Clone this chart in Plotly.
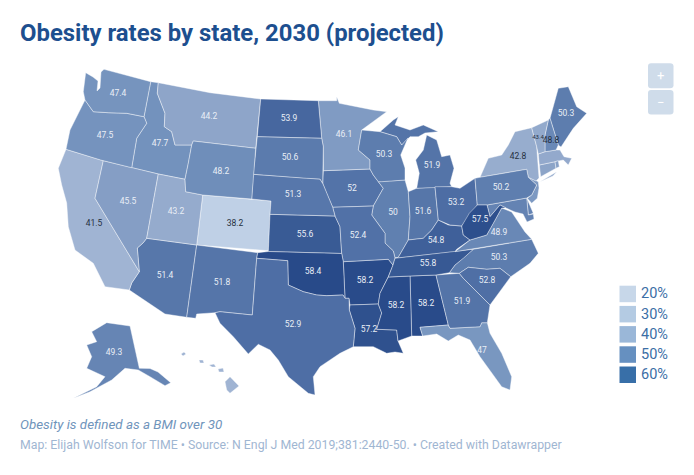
import plotly.graph_objects as go
from plotly.colors import sample_colorscale

# Valeurs du graphique
state_codes = ["AK","AL","AR","AZ","CA","CO","CT","DE","FL","GA","HI","IA","ID","IL","IN","KS","KY","LA","MA","MD",
               "ME","MI","MN","MO","MS","MT","NC","ND","NE","NH","NJ","NM","NV","NY","OH","OK","OR","PA","RI","SC",
               "SD","TN","TX","UT","VA","VT","WA","WI","WV","WY"]
state_rates = [49.3,58.2,58.2,51.4,41.5,38.2,44.5,49.5,47,51.9,41.5,52,47.7,50,51.6,55.6,54.8,57.2,43.5,49.5,
               50.3,51.9,46.1,52.4,58.2,44.2,50.3,53.9,51.3,48.8,46.5,51.8,45.5,42.8,53.2,58.4,47.5,50.2,45,52.8,
               50.6,55.8,52.9,43.2,48.9,43.4,47.4,50.3,57.5,48.2]
# Etats sans etiquette sur la carte
unlabeled = ["CT","DE","HI","MA","MD","NJ","RI"]
dark_labels = ["CA","CO","NY","NH","VT"]

legend_labels = ["20%","30%","40%","50%","60%"]
legend_colors = ["#c7d7e9","#b4cbe3","#9ab7d8","#6690c0","#386fa8"]

title_text = "Obesity rates by state, 2030 (projected)"
note_text = "Obesity is defined as a BMI over 30"
source_text = "Map: Elijah Wolfson for TIME • Source: N Engl J Med 2019;381:2440-50. • Created with Datawrapper"

# Position des etiquettes
label_pos = {
    "AK":(114,353),"AL":(426,304),"AR":(365,281),"AZ":(165,276),"CA":(94,224),"CO":(235,224),"FL":(482,351),
    "GA":(462,302),"IA":(352,189),"ID":(160,144),"IL":(393,213),"IN":(423,212),"KS":(305,235),"KY":(436,241),
    "LA":(369,330),"ME":(566,114),"MI":(432,166),"MN":(344,135),"MO":(358,236),"MS":(396,306),"MT":(209,117),
    "NC":(499,258),"ND":(289,119),"NE":(293,195),"NH":(551,141),"NM":(222,283),"NV":(128,202),"NY":(518,157),
    "OH":(456,203),"OK":(313,272),"OR":(105,136),"PA":(501,188),"SC":(487,281),"SD":(290,158),"TN":(428,264),
    "TX":(293,325),"UT":(176,212),"VA":(499,233),"VT":(538,137),"WA":(118,94),"WI":(384,155),"WV":(480,220),
    "WY":(221,172),
}

# Contours des etats, relus sur l'image (pas de topojson sans reseau)
outlines = {
    "WA":[[(85.7,72.7),(93,77),(98,81),(97,91),(100,88),(101,78),(101,72),(104,69.3),(150.7,81.7),(144,116.7),
           (126.7,113.3),(108.3,112.7),(93.3,111.7),(85,100),(83.3,91.7)]],
    "OR":[[(85,100),(93.3,111.7),(108.3,112.7),(126.7,113.3),(144,116.7),(146.7,123.3),(136.7,138.3),(131.7,167.7),
           (100.7,160),(66,149.3),(70,130)]],
    "CA":[[(66,149.3),(103.3,160.7),(95,198.3),(139.3,271.7),(131.7,283),(129.3,290),(105,286.7),(93.3,263.3),
           (75,250),(68.3,226.7),(66.7,203),(61.7,185),(58.3,168.3)]],
    "NV":[[(103.3,160.7),(131.7,167.7),(158.3,174),(146.7,238.3),(143,243),(137.3,248),(139.3,271.7),(95,198.3)]],
    "ID":[[(150.7,81.7),(158.3,82.7),(157.3,93.3),(165,113.3),(164.3,126.7),(171.7,131.7),(175,145),(191.7,145),
           (188.3,163.3),(185,179.3),(158.3,174),(131.7,167.7),(136.7,138.3),(146.7,123.3),(144,116.7)]],
    "MT":[[(158.3,82.7),(210,92.7),(260.7,99),(257.3,136.7),(255.7,148.3),(193.3,141),(191.7,145),(175,145),
           (171.7,131.7),(164.3,126.7),(165,113.3),(157.3,93.3)]],
    "WY":[[(193.3,141),(255.7,148.3),(251.7,199),(202.7,195),(185.7,191.7),(185,179.3),(188.3,163.3),(191.7,145)]],
    "UT":[[(158.3,174),(185,179.3),(185.7,191.7),(202.7,195),(196.7,245),(146.7,238.3)]],
    "CO":[[(202.7,195),(251.7,199),(271,201),(268.3,250.7),(196.7,245)]],
    "AZ":[[(146.7,238.3),(196.7,245),(186.7,317.3),(165,314),(129.3,290),(131.7,283),(139.3,271.7),(137.3,248),(143,243)]],
    "NM":[[(196.7,245),(257.7,252.7),(256.7,258.3),(252.3,315),(220,311.7),(215,312.7),(196.7,314),(195.7,318.3),(186.7,317.3)]],
    "ND":[[(260.7,99),(318.3,100.7),(321.7,138.3),(257.3,136.7)]],
    "SD":[[(257.3,136.7),(321.7,138.3),(323.3,146.7),(323.3,170.7),(322.7,183.3),(320,179),(306.7,178.3),(253.3,174.3),(255.7,148.3)]],
    "NE":[[(253.3,174.3),(306.7,178.3),(320,179),(322.7,183.3),(326.7,193.3),(332.7,207.3),(335,216),(270,214.3),(271,201),(251.7,199)]],
    "KS":[[(270,214.3),(335,216),(340,226.7),(341.7,253.5),(268.3,251.5)]],
    "OK":[[(257.7,252.7),(268.3,251.5),(341.7,253.5),(343.3,261.7),(345,298.3),(343,295),(326.7,295.7),(316.7,295),
           (303.3,291.7),(288.3,285),(287.7,260.7),(256.7,258.3)]],
    "TX":[[(256.7,258.3),(287.7,260.7),(288.3,285),(303.3,291.7),(316.7,295),(326.7,295.7),(343,295),(345,298.3),(349,298.3),
           (349.3,310),(355,328.3),(353.3,346.7),(340,353.3),(320,366.7),(313.3,376.7),(315,395),(308.3,393.3),(288.3,376.7),
           (278.3,360),(270,350),(258.3,344.3),(248.3,354),(233.3,336.7),(220,323.3),(215,312.7),(220,311.7),(252.3,315)]],
    "MN":[[(318.3,100.7),(336.7,100.7),(336.7,96.7),(339.3,103.3),(356.7,106.7),(373.3,110),(386.7,111.7),(373.3,121.7),
           (361.7,130),(358.3,150),(370,160),(370,169),(323.3,170.7),(323.3,146.7),(321.7,138.3)]],
    "IA":[[(323.3,170.7),(370,169),(373.3,175),(378.3,181.7),(383.3,188.3),(373.3,206),(332.7,207.3),(326.7,193.3),(322.7,183.3)]],
    "MO":[[(332.7,207.3),(373.3,206),(371.7,215),(385,233.3),(385,243),(393.3,251),(395,258),(393,265),(388.3,259.3),
           (343.3,261.7),(341.7,253.5),(340,226.7),(335,216)]],
    "AR":[[(343.3,261.7),(388.3,259.3),(393,265),(388.3,276.7),(380,293.3),(378.3,304),(350,305),(349,298.3),(345,298.3)]],
    "LA":[[(350,305),(378.3,304),(381.7,313),(376.7,329.3),(396.7,330),(398,341),(403.3,353.3),(395,352),(386.7,353.3),
           (373.3,346.7),(353.3,346.7),(355,328.3),(349.3,310)]],
    "WI":[[(361.7,130),(380,131.7),(396.7,136.7),(401.7,145),(408,138),(400.7,155),(405,168),(405,180),(381.7,181.7),
           (378.3,181.7),(373.3,175),(370,169),(370,160),(358.3,150)]],
    "IL":[[(378.3,181.7),(405,180),(408.3,191.7),(410,216.7),(408.3,240),(398.3,257.3),(395,258),(393.3,251),(385,243),(385,233.3),
           (371.7,215),(373.3,206),(383.3,188.3)]],
    "IN":[[(408.3,191.7),(416.7,188.3),(435,186.7),(438.3,220),(431.7,230),(423.3,238.3),(408.3,240),(410,216.7)]],
    "OH":[[(435,186.7),(451.7,186.7),(460,188.3),(475,178.3),(477.3,205),(468.3,216.7),(461.7,226),(450,225),(438.3,220)]],
    "MI":[[(380,131.7),(393.3,120),(398.3,116.7),(395,125),(410,130),(423.3,125),(438.3,131.7),(425,133),(418.3,136.7),
           (410,136.7),(401.7,145),(396.7,136.7)],
          [(423.3,150),(426.7,135),(436.7,140),(441.7,156.7),(450,155),(454,168.3),(450,183.3),(451.7,186.7),(416.7,188.3),
           (419.3,173.3),(415.7,160)]],
    "KY":[[(398.3,257.3),(408.3,240),(423.3,238.3),(431.7,230),(438.3,220),(448.3,225),(461.7,226),(463.3,235),(470,240),
           (456.7,249.3),(455,251.7),(395,258.3)]],
    "TN":[[(395,258.3),(455,251.7),(473.3,249.3),(463.3,258.3),(455,265),(449.3,272.7),(436,275),(410,276),(388.3,277),(393,265)]],
    "MS":[[(388.3,277),(410,276),(411.7,336),(398,341),(396.7,330),(376.7,329.3),(381.7,313),(378.3,304),(380,293.3)]],
    "AL":[[(410,276),(436,275),(448.3,325),(420,327.3),(422.7,336),(411.7,336)]],
    "GA":[[(436,275),(459.3,273.3),(463.3,278.3),(490,305),(487.3,322.7),(481.7,322.7),(480,326.7),(450,328.3),(448.3,325)]],
    "FL":[[(420,327.3),(448.3,325),(450,328.3),(480,326.7),(481.7,322.7),(487.3,322.7),(490,333.3),(501.7,353.3),(511.7,376.7),
           (510,390),(501.7,386.7),(480,356.7),(470,340),(458.3,335),(448.3,341),(436.7,334),(422.7,336)]],
    "SC":[[(459.3,273.3),(468.3,267.3),(486.7,269.3),(500,268.3),(510.7,276.7),(500,291.7),(490,305),(463.3,278.3)]],
    "NC":[[(473.3,249.3),(531.7,239.3),(538.3,253.3),(530,263.3),(510.7,276.7),(500,268.3),(486.7,269.3),(468.3,267.3),
           (459.3,273.3),(449.3,272.7),(455,265),(463.3,258.3)]],
    "VA":[[(455,251.7),(470,240),(486.7,235),(493.3,223.3),(501.7,208),(511.7,212),(518,222),(525,232),(531.7,239.3),(473.3,249.3)]],
    "WV":[[(461.7,226),(469.3,213.3),(477.3,205),(487,205),(490,216.7),(500,205),(506,208),(501.7,208),(493.3,223.3),(486.7,235),
           (470,240),(463.3,235)]],
    "MD":[[(487,205),(526.7,198),(528.3,215),(533.3,214),(534,219),(527,222),(523,214),(515,212),(506,208),(500,205),(490,216.7)]],
    "DE":[[(526.7,198),(533.3,213.3),(528.3,215)]],
    "PA":[[(475,178.3),(480,177.3),(526.7,169.3),(528.3,177.3),(536.7,185),(531.7,195),(526.7,198),(487,205),(477.3,205)]],
    "NJ":[[(528.3,177.3),(538.3,181.7),(539,188),(537.3,198.3),(531.7,203.3),(527.3,198.3),(531.7,195),(536.7,185)]],
    "NY":[[(480,177.3),(488.3,158.3),(501.7,155),(508.3,145),(515,131.7),(531.7,127.7),(536.7,146.7),(538.3,165),(539,178),
           (536,181),(528.3,177.3),(526.7,169.3)],
          [(540,181.7),(556.7,171.7),(553,176)]],
    "VT":[[(531.7,127.7),(548.3,120),(545,135),(545,151.7),(538.3,154),(536.7,146.7)]],
    "NH":[[(548.3,120),(550,118.3),(558.3,145),(556,150),(545,151.7),(545,135)]],
    "ME":[[(550,118.3),(553.3,106.7),(558.3,88.3),(568.3,86.7),(576.7,106.7),(586.7,113.3),(573.3,128.3),(566.7,138.3),(561,147),(558.3,145)]],
    "MA":[[(538.3,154),(545,151.7),(556,150),(560,150),(564,156.7),(571.7,158.3),(568.3,165),(563.3,160),(555,161.7),(539.3,165)]],
    "CT":[[(539.3,165),(555,161.7),(556,168.3),(540.7,176.7)]],
    "RI":[[(555,161.7),(558.3,160.7),(559.3,166.7),(556,168.3)]],
    "AK":[[(91.7,331.7),(106.7,322.7),(130,326),(139.3,368.3),(150,368.5),(158,372),(170.7,382.7),(165,385.7),(150,376.7),(138.3,370),
           (125,368.3),(116.7,375),(111.7,380),(90,391.7),(73.3,398.3),(96.7,386.7),(105,376.7),(86.7,368.3),(91.7,356.7),
           (86.7,345),(96.7,341.7)]],
    "HI":[[(181,354),(184,352),(186,354),(183,356)],[(199,360),(203,360),(204,363),(200,363)],[(209,365),(214,364),(216,367),(212,367)],
          [(218,369),(223,368),(224,372),(219,372)],[(225,381.7),(230,376.7),(239,386),(230,393.3),(226.7,390)]],
}

# Echelle de couleur des taux
rate_scale = [[0,"#bfd0e6"],[0.16,"#a0b4d3"],[0.3,"#8ea5c9"],[0.45,"#7795bf"],[0.6,"#5d7dae"],[0.74,"#4d6da4"],[0.85,"#3a5c96"],[1,"#284a89"]]
rate_min = 38.2
rate_max = 58.4

fig = go.Figure()

rate_of = dict(zip(state_codes, state_rates))
for code in state_codes:
    xs, ys = [], []
    for ring in outlines[code]:
        xs += [p[0] for p in ring] + [ring[0][0], None]
        ys += [p[1] for p in ring] + [ring[0][1], None]
    col = sample_colorscale(rate_scale, (rate_of[code] - rate_min) / (rate_max - rate_min))[0]
    fig.add_trace(go.Scatter(x=xs, y=ys, mode="lines", fill="toself", fillcolor=col,
                             line=dict(color="rgba(255,255,255,0.6)", width=0.7),
                             name=code, hoverinfo="name", showlegend=False))

# Etiquettes des valeurs
lab = [c for c in state_codes if c not in unlabeled]
fig.add_trace(go.Scatter(
    x=[label_pos[c][0] for c in lab], y=[label_pos[c][1] for c in lab], mode="text",
    text=[f"{rate_of[c]:g}" for c in lab],
    textfont=dict(family="Roboto", size=[6 if c == "VT" else 8.5 for c in lab],
                  color=["#26303f" if c in dark_labels else "#e9eef6" for c in lab]),
    textposition="middle center", hoverinfo="skip", showlegend=False))

# Legende
for i, (lbl, col) in enumerate(zip(legend_labels, legend_colors)):
    top = 285.7 + i * 20.2
    fig.add_shape(type="rect", x0=619.5, x1=636, y0=top, y1=top + 16.5, fillcolor=col, line_width=0, layer="below")
    fig.add_annotation(x=638.5, y=top + 8.2, text=lbl, showarrow=False, xanchor="left", yanchor="middle",
                       font=dict(family="Roboto", size=14.5, color="#3b6ea6"))

# Boutons de zoom
for top, bottom, sym in [(63.3, 88.3, "+"), (90, 114.5, "−")]:
    path = (f"M 651,{top} L 670,{top} Q 673.5,{top} 673.5,{top+3} L 673.5,{bottom-3} Q 673.5,{bottom} 670,{bottom} "
            f"L 651,{bottom} Q 648,{bottom} 648,{bottom-3} L 648,{top+3} Q 648,{top} 651,{top} Z")
    fig.add_shape(type="path", path=path, fillcolor="#cfdcea", line_width=0, layer="below")
    fig.add_annotation(x=660.7, y=(top + bottom) / 2, text=sym, showarrow=False,
                       font=dict(family="Roboto", size=13, color="white"))

# Titres
fig.add_annotation(x=18, y=32.5, text=f"<b>{title_text}</b>", showarrow=False, xanchor="left", yanchor="middle",
                   font=dict(family="Roboto", size=23.9, color="#1d4f8f"))
fig.add_annotation(x=18, y=424, text=f"<i>{note_text}</i>", showarrow=False, xanchor="left", yanchor="middle",
                   font=dict(family="Roboto", size=13.4, color="#6f94bb"))
fig.add_annotation(x=18, y=445, text=source_text, showarrow=False, xanchor="left", yanchor="middle",
                   font=dict(family="Roboto", size=12.3, color="#9fb6d2"))

fig.update_xaxes(visible=False, range=[0, 694], fixedrange=True)
fig.update_yaxes(visible=False, range=[475, 0], fixedrange=True)
fig.update_layout(width=694, height=475, margin=dict(l=0, r=0, t=0, b=0),
                  paper_bgcolor="white", plot_bgcolor="white")

fig.write_html("out.html", config=dict(displayModeBar=False), post_script="document.body.style.margin='0';")
